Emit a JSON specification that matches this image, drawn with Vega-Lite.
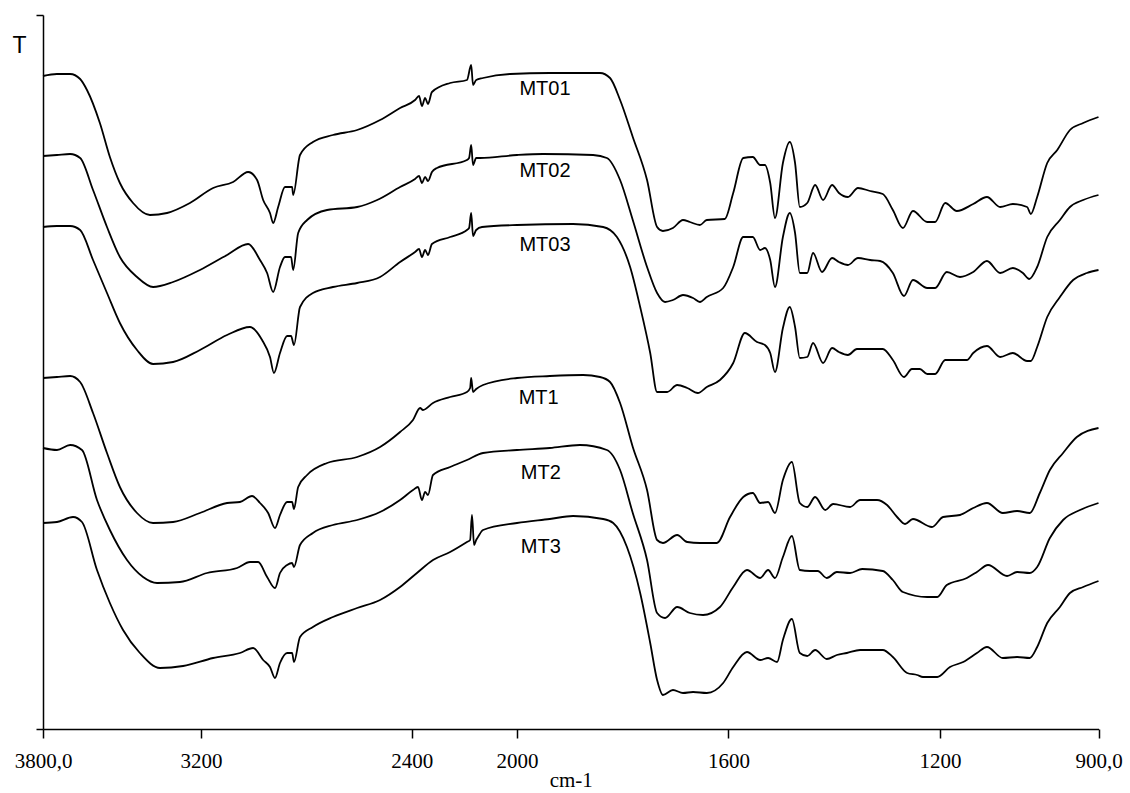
{
"$schema": "https://vega.github.io/schema/vega-lite/v6.json",
"width": 1056, "height": 714,
"autosize": "none",
"padding": {"left": 43, "top": 15, "right": 31, "bottom": 64},
"background": "white",
"config": {"view": {"stroke": null}},
"datasets": {
"spectra": [
{"s":"MT01","w":3800,"t":653},{"s":"MT01","w":3747,"t":655},{"s":"MT01","w":3697,"t":655},{"s":"MT01","w":3659,"t":650},{"s":"MT01","w":3633,"t":639},{"s":"MT01","w":3584,"t":606},{"s":"MT01","w":3546,"t":572},{"s":"MT01","w":3508,"t":546},{"s":"MT01","w":3458,"t":526},{"s":"MT01","w":3394,"t":514},{"s":"MT01","w":3329,"t":516},{"s":"MT01","w":3242,"t":526},{"s":"MT01","w":3154,"t":541},{"s":"MT01","w":3078,"t":547},{"s":"MT01","w":3021,"t":557},{"s":"MT01","w":2987,"t":549},{"s":"MT01","w":2964,"t":529},{"s":"MT01","w":2938,"t":516},{"s":"MT01","w":2926,"t":506},{"s":"MT01","w":2907,"t":522},{"s":"MT01","w":2881,"t":542},{"s":"MT01","w":2854,"t":542},{"s":"MT01","w":2850,"t":534},{"s":"MT01","w":2824,"t":574},{"s":"MT01","w":2775,"t":587},{"s":"MT01","w":2699,"t":594},{"s":"MT01","w":2607,"t":599},{"s":"MT01","w":2520,"t":609},{"s":"MT01","w":2444,"t":621},{"s":"MT01","w":2387,"t":629},{"s":"MT01","w":2372,"t":633},{"s":"MT01","w":2361,"t":623},{"s":"MT01","w":2349,"t":631},{"s":"MT01","w":2338,"t":625},{"s":"MT01","w":2323,"t":637},{"s":"MT01","w":2254,"t":646},{"s":"MT01","w":2190,"t":649},{"s":"MT01","w":2174,"t":664},{"s":"MT01","w":2167,"t":644},{"s":"MT01","w":2155,"t":649},{"s":"MT01","w":2129,"t":651},{"s":"MT01","w":2026,"t":655},{"s":"MT01","w":1938,"t":656},{"s":"MT01","w":1843,"t":656},{"s":"MT01","w":1824,"t":651},{"s":"MT01","w":1805,"t":629},{"s":"MT01","w":1781,"t":592},{"s":"MT01","w":1754,"t":549},{"s":"MT01","w":1735,"t":502},{"s":"MT01","w":1724,"t":498},{"s":"MT01","w":1705,"t":501},{"s":"MT01","w":1686,"t":509},{"s":"MT01","w":1673,"t":507},{"s":"MT01","w":1654,"t":504},{"s":"MT01","w":1641,"t":509},{"s":"MT01","w":1607,"t":510},{"s":"MT01","w":1591,"t":536},{"s":"MT01","w":1572,"t":571},{"s":"MT01","w":1554,"t":572},{"s":"MT01","w":1540,"t":564},{"s":"MT01","w":1531,"t":564},{"s":"MT01","w":1521,"t":546},{"s":"MT01","w":1512,"t":511},{"s":"MT01","w":1497,"t":566},{"s":"MT01","w":1484,"t":587},{"s":"MT01","w":1474,"t":566},{"s":"MT01","w":1465,"t":522},{"s":"MT01","w":1451,"t":526},{"s":"MT01","w":1436,"t":544},{"s":"MT01","w":1421,"t":529},{"s":"MT01","w":1404,"t":544},{"s":"MT01","w":1391,"t":536},{"s":"MT01","w":1374,"t":532},{"s":"MT01","w":1355,"t":541},{"s":"MT01","w":1332,"t":538},{"s":"MT01","w":1308,"t":535},{"s":"MT01","w":1289,"t":519},{"s":"MT01","w":1270,"t":501},{"s":"MT01","w":1251,"t":518},{"s":"MT01","w":1224,"t":507},{"s":"MT01","w":1209,"t":507},{"s":"MT01","w":1190,"t":526},{"s":"MT01","w":1168,"t":518},{"s":"MT01","w":1137,"t":525},{"s":"MT01","w":1111,"t":532},{"s":"MT01","w":1086,"t":522},{"s":"MT01","w":1062,"t":525},{"s":"MT01","w":1035,"t":522},{"s":"MT01","w":1028,"t":515},{"s":"MT01","w":1016,"t":532},{"s":"MT01","w":997,"t":566},{"s":"MT01","w":978,"t":579},{"s":"MT01","w":954,"t":599},{"s":"MT01","w":929,"t":606},{"s":"MT01","w":900,"t":612},

{"s":"MT02","w":3800,"t":573},{"s":"MT02","w":3747,"t":574},{"s":"MT02","w":3697,"t":575},{"s":"MT02","w":3659,"t":571},{"s":"MT02","w":3610,"t":539},{"s":"MT02","w":3557,"t":502},{"s":"MT02","w":3508,"t":472},{"s":"MT02","w":3443,"t":452},{"s":"MT02","w":3382,"t":442},{"s":"MT02","w":3306,"t":447},{"s":"MT02","w":3204,"t":459},{"s":"MT02","w":3101,"t":474},{"s":"MT02","w":3021,"t":485},{"s":"MT02","w":2976,"t":469},{"s":"MT02","w":2949,"t":456},{"s":"MT02","w":2926,"t":437},{"s":"MT02","w":2900,"t":462},{"s":"MT02","w":2881,"t":472},{"s":"MT02","w":2858,"t":472},{"s":"MT02","w":2850,"t":459},{"s":"MT02","w":2831,"t":496},{"s":"MT02","w":2797,"t":509},{"s":"MT02","w":2721,"t":519},{"s":"MT02","w":2607,"t":522},{"s":"MT02","w":2531,"t":529},{"s":"MT02","w":2444,"t":542},{"s":"MT02","w":2387,"t":550},{"s":"MT02","w":2372,"t":553},{"s":"MT02","w":2361,"t":546},{"s":"MT02","w":2349,"t":552},{"s":"MT02","w":2338,"t":548},{"s":"MT02","w":2323,"t":557},{"s":"MT02","w":2304,"t":561},{"s":"MT02","w":2190,"t":569},{"s":"MT02","w":2182,"t":571},{"s":"MT02","w":2174,"t":584},{"s":"MT02","w":2167,"t":564},{"s":"MT02","w":2155,"t":571},{"s":"MT02","w":2140,"t":571},{"s":"MT02","w":2000,"t":574},{"s":"MT02","w":1951,"t":575},{"s":"MT02","w":1856,"t":574},{"s":"MT02","w":1830,"t":571},{"s":"MT02","w":1805,"t":549},{"s":"MT02","w":1781,"t":509},{"s":"MT02","w":1754,"t":462},{"s":"MT02","w":1735,"t":436},{"s":"MT02","w":1720,"t":427},{"s":"MT02","w":1705,"t":429},{"s":"MT02","w":1686,"t":434},{"s":"MT02","w":1667,"t":431},{"s":"MT02","w":1654,"t":427},{"s":"MT02","w":1641,"t":432},{"s":"MT02","w":1610,"t":441},{"s":"MT02","w":1591,"t":462},{"s":"MT02","w":1572,"t":492},{"s":"MT02","w":1554,"t":492},{"s":"MT02","w":1540,"t":479},{"s":"MT02","w":1531,"t":481},{"s":"MT02","w":1521,"t":469},{"s":"MT02","w":1512,"t":442},{"s":"MT02","w":1497,"t":492},{"s":"MT02","w":1484,"t":516},{"s":"MT02","w":1474,"t":496},{"s":"MT02","w":1465,"t":456},{"s":"MT02","w":1451,"t":456},{"s":"MT02","w":1440,"t":476},{"s":"MT02","w":1423,"t":457},{"s":"MT02","w":1404,"t":471},{"s":"MT02","w":1391,"t":467},{"s":"MT02","w":1374,"t":464},{"s":"MT02","w":1355,"t":471},{"s":"MT02","w":1332,"t":469},{"s":"MT02","w":1313,"t":468},{"s":"MT02","w":1289,"t":456},{"s":"MT02","w":1268,"t":433},{"s":"MT02","w":1251,"t":449},{"s":"MT02","w":1224,"t":441},{"s":"MT02","w":1209,"t":441},{"s":"MT02","w":1187,"t":457},{"s":"MT02","w":1162,"t":452},{"s":"MT02","w":1137,"t":457},{"s":"MT02","w":1111,"t":468},{"s":"MT02","w":1086,"t":456},{"s":"MT02","w":1062,"t":461},{"s":"MT02","w":1043,"t":456},{"s":"MT02","w":1031,"t":450},{"s":"MT02","w":1016,"t":462},{"s":"MT02","w":997,"t":492},{"s":"MT02","w":973,"t":509},{"s":"MT02","w":954,"t":522},{"s":"MT02","w":929,"t":529},{"s":"MT02","w":900,"t":534},

{"s":"MT03","w":3800,"t":502},{"s":"MT03","w":3747,"t":503},{"s":"MT03","w":3697,"t":503},{"s":"MT03","w":3659,"t":499},{"s":"MT03","w":3610,"t":469},{"s":"MT03","w":3557,"t":436},{"s":"MT03","w":3508,"t":406},{"s":"MT03","w":3443,"t":379},{"s":"MT03","w":3382,"t":365},{"s":"MT03","w":3306,"t":367},{"s":"MT03","w":3204,"t":379},{"s":"MT03","w":3101,"t":394},{"s":"MT03","w":3014,"t":402},{"s":"MT03","w":2968,"t":389},{"s":"MT03","w":2938,"t":372},{"s":"MT03","w":2923,"t":356},{"s":"MT03","w":2900,"t":376},{"s":"MT03","w":2873,"t":393},{"s":"MT03","w":2858,"t":393},{"s":"MT03","w":2847,"t":384},{"s":"MT03","w":2824,"t":422},{"s":"MT03","w":2775,"t":436},{"s":"MT03","w":2699,"t":442},{"s":"MT03","w":2607,"t":446},{"s":"MT03","w":2520,"t":452},{"s":"MT03","w":2444,"t":467},{"s":"MT03","w":2387,"t":477},{"s":"MT03","w":2372,"t":480},{"s":"MT03","w":2361,"t":472},{"s":"MT03","w":2349,"t":479},{"s":"MT03","w":2338,"t":474},{"s":"MT03","w":2323,"t":485},{"s":"MT03","w":2254,"t":492},{"s":"MT03","w":2190,"t":499},{"s":"MT03","w":2182,"t":501},{"s":"MT03","w":2174,"t":516},{"s":"MT03","w":2167,"t":493},{"s":"MT03","w":2155,"t":499},{"s":"MT03","w":2133,"t":502},{"s":"MT03","w":2000,"t":504},{"s":"MT03","w":1894,"t":505},{"s":"MT03","w":1837,"t":502},{"s":"MT03","w":1811,"t":492},{"s":"MT03","w":1786,"t":462},{"s":"MT03","w":1767,"t":422},{"s":"MT03","w":1748,"t":376},{"s":"MT03","w":1735,"t":337},{"s":"MT03","w":1716,"t":337},{"s":"MT03","w":1697,"t":344},{"s":"MT03","w":1678,"t":341},{"s":"MT03","w":1658,"t":336},{"s":"MT03","w":1641,"t":342},{"s":"MT03","w":1616,"t":349},{"s":"MT03","w":1591,"t":366},{"s":"MT03","w":1569,"t":396},{"s":"MT03","w":1546,"t":387},{"s":"MT03","w":1531,"t":384},{"s":"MT03","w":1521,"t":376},{"s":"MT03","w":1512,"t":357},{"s":"MT03","w":1497,"t":401},{"s":"MT03","w":1484,"t":422},{"s":"MT03","w":1474,"t":402},{"s":"MT03","w":1465,"t":371},{"s":"MT03","w":1451,"t":372},{"s":"MT03","w":1440,"t":386},{"s":"MT03","w":1421,"t":366},{"s":"MT03","w":1404,"t":381},{"s":"MT03","w":1391,"t":377},{"s":"MT03","w":1374,"t":374},{"s":"MT03","w":1357,"t":380},{"s":"MT03","w":1308,"t":380},{"s":"MT03","w":1289,"t":369},{"s":"MT03","w":1268,"t":352},{"s":"MT03","w":1253,"t":360},{"s":"MT03","w":1238,"t":360},{"s":"MT03","w":1224,"t":355},{"s":"MT03","w":1209,"t":355},{"s":"MT03","w":1190,"t":369},{"s":"MT03","w":1149,"t":369},{"s":"MT03","w":1137,"t":376},{"s":"MT03","w":1111,"t":383},{"s":"MT03","w":1086,"t":372},{"s":"MT03","w":1062,"t":376},{"s":"MT03","w":1035,"t":368},{"s":"MT03","w":1028,"t":368},{"s":"MT03","w":1016,"t":382},{"s":"MT03","w":997,"t":412},{"s":"MT03","w":973,"t":432},{"s":"MT03","w":948,"t":449},{"s":"MT03","w":922,"t":456},{"s":"MT03","w":900,"t":459},

{"s":"MT1","w":3800,"t":351},{"s":"MT1","w":3747,"t":352},{"s":"MT1","w":3697,"t":353},{"s":"MT1","w":3659,"t":347},{"s":"MT1","w":3610,"t":316},{"s":"MT1","w":3557,"t":276},{"s":"MT1","w":3508,"t":242},{"s":"MT1","w":3443,"t":216},{"s":"MT1","w":3382,"t":206},{"s":"MT1","w":3306,"t":207},{"s":"MT1","w":3204,"t":216},{"s":"MT1","w":3101,"t":226},{"s":"MT1","w":3052,"t":227},{"s":"MT1","w":3006,"t":233},{"s":"MT1","w":2976,"t":226},{"s":"MT1","w":2945,"t":216},{"s":"MT1","w":2919,"t":201},{"s":"MT1","w":2900,"t":214},{"s":"MT1","w":2873,"t":227},{"s":"MT1","w":2854,"t":227},{"s":"MT1","w":2847,"t":220},{"s":"MT1","w":2831,"t":242},{"s":"MT1","w":2797,"t":254},{"s":"MT1","w":2721,"t":266},{"s":"MT1","w":2607,"t":272},{"s":"MT1","w":2520,"t":282},{"s":"MT1","w":2444,"t":297},{"s":"MT1","w":2395,"t":309},{"s":"MT1","w":2368,"t":321},{"s":"MT1","w":2357,"t":319},{"s":"MT1","w":2319,"t":326},{"s":"MT1","w":2254,"t":332},{"s":"MT1","w":2190,"t":337},{"s":"MT1","w":2178,"t":341},{"s":"MT1","w":2174,"t":351},{"s":"MT1","w":2167,"t":337},{"s":"MT1","w":2155,"t":340},{"s":"MT1","w":2129,"t":344},{"s":"MT1","w":2000,"t":351},{"s":"MT1","w":1938,"t":353},{"s":"MT1","w":1875,"t":354},{"s":"MT1","w":1843,"t":352},{"s":"MT1","w":1824,"t":347},{"s":"MT1","w":1805,"t":326},{"s":"MT1","w":1781,"t":282},{"s":"MT1","w":1754,"t":239},{"s":"MT1","w":1735,"t":189},{"s":"MT1","w":1724,"t":186},{"s":"MT1","w":1697,"t":194},{"s":"MT1","w":1678,"t":187},{"s":"MT1","w":1654,"t":186},{"s":"MT1","w":1622,"t":186},{"s":"MT1","w":1597,"t":212},{"s":"MT1","w":1572,"t":232},{"s":"MT1","w":1554,"t":236},{"s":"MT1","w":1540,"t":226},{"s":"MT1","w":1525,"t":227},{"s":"MT1","w":1512,"t":216},{"s":"MT1","w":1497,"t":249},{"s":"MT1","w":1480,"t":267},{"s":"MT1","w":1465,"t":226},{"s":"MT1","w":1451,"t":222},{"s":"MT1","w":1436,"t":232},{"s":"MT1","w":1417,"t":219},{"s":"MT1","w":1402,"t":225},{"s":"MT1","w":1370,"t":222},{"s":"MT1","w":1351,"t":229},{"s":"MT1","w":1319,"t":229},{"s":"MT1","w":1300,"t":224},{"s":"MT1","w":1281,"t":212},{"s":"MT1","w":1266,"t":205},{"s":"MT1","w":1251,"t":210},{"s":"MT1","w":1215,"t":202},{"s":"MT1","w":1194,"t":212},{"s":"MT1","w":1162,"t":214},{"s":"MT1","w":1137,"t":221},{"s":"MT1","w":1111,"t":226},{"s":"MT1","w":1081,"t":216},{"s":"MT1","w":1054,"t":218},{"s":"MT1","w":1030,"t":216},{"s":"MT1","w":1011,"t":236},{"s":"MT1","w":992,"t":259},{"s":"MT1","w":967,"t":276},{"s":"MT1","w":941,"t":292},{"s":"MT1","w":900,"t":301},

{"s":"MT2","w":3800,"t":281},{"s":"MT2","w":3747,"t":279},{"s":"MT2","w":3697,"t":284},{"s":"MT2","w":3652,"t":279},{"s":"MT2","w":3595,"t":229},{"s":"MT2","w":3546,"t":199},{"s":"MT2","w":3481,"t":169},{"s":"MT2","w":3420,"t":152},{"s":"MT2","w":3367,"t":146},{"s":"MT2","w":3280,"t":147},{"s":"MT2","w":3177,"t":156},{"s":"MT2","w":3063,"t":161},{"s":"MT2","w":3014,"t":167},{"s":"MT2","w":2983,"t":167},{"s":"MT2","w":2949,"t":152},{"s":"MT2","w":2919,"t":141},{"s":"MT2","w":2900,"t":156},{"s":"MT2","w":2873,"t":164},{"s":"MT2","w":2854,"t":166},{"s":"MT2","w":2847,"t":162},{"s":"MT2","w":2824,"t":184},{"s":"MT2","w":2775,"t":196},{"s":"MT2","w":2699,"t":204},{"s":"MT2","w":2607,"t":209},{"s":"MT2","w":2520,"t":217},{"s":"MT2","w":2444,"t":229},{"s":"MT2","w":2395,"t":239},{"s":"MT2","w":2376,"t":242},{"s":"MT2","w":2361,"t":229},{"s":"MT2","w":2349,"t":237},{"s":"MT2","w":2338,"t":234},{"s":"MT2","w":2319,"t":254},{"s":"MT2","w":2254,"t":262},{"s":"MT2","w":2190,"t":269},{"s":"MT2","w":2129,"t":276},{"s":"MT2","w":2000,"t":279},{"s":"MT2","w":1938,"t":281},{"s":"MT2","w":1881,"t":284},{"s":"MT2","w":1830,"t":279},{"s":"MT2","w":1805,"t":259},{"s":"MT2","w":1781,"t":216},{"s":"MT2","w":1754,"t":169},{"s":"MT2","w":1735,"t":116},{"s":"MT2","w":1720,"t":111},{"s":"MT2","w":1697,"t":122},{"s":"MT2","w":1673,"t":116},{"s":"MT2","w":1648,"t":114},{"s":"MT2","w":1616,"t":122},{"s":"MT2","w":1591,"t":142},{"s":"MT2","w":1565,"t":159},{"s":"MT2","w":1540,"t":151},{"s":"MT2","w":1525,"t":159},{"s":"MT2","w":1512,"t":151},{"s":"MT2","w":1497,"t":172},{"s":"MT2","w":1480,"t":193},{"s":"MT2","w":1465,"t":159},{"s":"MT2","w":1446,"t":158},{"s":"MT2","w":1431,"t":158},{"s":"MT2","w":1414,"t":151},{"s":"MT2","w":1395,"t":157},{"s":"MT2","w":1370,"t":156},{"s":"MT2","w":1347,"t":160},{"s":"MT2","w":1308,"t":158},{"s":"MT2","w":1289,"t":149},{"s":"MT2","w":1270,"t":137},{"s":"MT2","w":1224,"t":132},{"s":"MT2","w":1205,"t":132},{"s":"MT2","w":1187,"t":144},{"s":"MT2","w":1149,"t":151},{"s":"MT2","w":1130,"t":157},{"s":"MT2","w":1109,"t":164},{"s":"MT2","w":1073,"t":153},{"s":"MT2","w":1054,"t":157},{"s":"MT2","w":1030,"t":156},{"s":"MT2","w":1016,"t":162},{"s":"MT2","w":992,"t":191},{"s":"MT2","w":967,"t":209},{"s":"MT2","w":935,"t":219},{"s":"MT2","w":900,"t":226},

{"s":"MT3","w":3800,"t":206},{"s":"MT3","w":3747,"t":207},{"s":"MT3","w":3686,"t":212},{"s":"MT3","w":3652,"t":207},{"s":"MT3","w":3595,"t":159},{"s":"MT3","w":3546,"t":126},{"s":"MT3","w":3496,"t":99},{"s":"MT3","w":3432,"t":76},{"s":"MT3","w":3356,"t":61},{"s":"MT3","w":3268,"t":63},{"s":"MT3","w":3154,"t":71},{"s":"MT3","w":3052,"t":76},{"s":"MT3","w":3002,"t":81},{"s":"MT3","w":2964,"t":69},{"s":"MT3","w":2938,"t":62},{"s":"MT3","w":2919,"t":51},{"s":"MT3","w":2900,"t":66},{"s":"MT3","w":2873,"t":76},{"s":"MT3","w":2854,"t":76},{"s":"MT3","w":2847,"t":67},{"s":"MT3","w":2824,"t":92},{"s":"MT3","w":2775,"t":102},{"s":"MT3","w":2699,"t":112},{"s":"MT3","w":2607,"t":121},{"s":"MT3","w":2520,"t":129},{"s":"MT3","w":2444,"t":142},{"s":"MT3","w":2380,"t":156},{"s":"MT3","w":2319,"t":169},{"s":"MT3","w":2254,"t":177},{"s":"MT3","w":2190,"t":187},{"s":"MT3","w":2178,"t":189},{"s":"MT3","w":2171,"t":214},{"s":"MT3","w":2163,"t":184},{"s":"MT3","w":2155,"t":189},{"s":"MT3","w":2148,"t":192},{"s":"MT3","w":2129,"t":199},{"s":"MT3","w":2000,"t":206},{"s":"MT3","w":1938,"t":210},{"s":"MT3","w":1894,"t":213},{"s":"MT3","w":1837,"t":210},{"s":"MT3","w":1818,"t":206},{"s":"MT3","w":1792,"t":182},{"s":"MT3","w":1767,"t":136},{"s":"MT3","w":1748,"t":86},{"s":"MT3","w":1735,"t":49},{"s":"MT3","w":1724,"t":34},{"s":"MT3","w":1705,"t":39},{"s":"MT3","w":1686,"t":36},{"s":"MT3","w":1667,"t":37},{"s":"MT3","w":1641,"t":36},{"s":"MT3","w":1610,"t":46},{"s":"MT3","w":1591,"t":62},{"s":"MT3","w":1565,"t":77},{"s":"MT3","w":1540,"t":69},{"s":"MT3","w":1525,"t":71},{"s":"MT3","w":1508,"t":67},{"s":"MT3","w":1497,"t":89},{"s":"MT3","w":1480,"t":110},{"s":"MT3","w":1465,"t":76},{"s":"MT3","w":1451,"t":73},{"s":"MT3","w":1436,"t":79},{"s":"MT3","w":1414,"t":70},{"s":"MT3","w":1395,"t":74},{"s":"MT3","w":1376,"t":76},{"s":"MT3","w":1351,"t":79},{"s":"MT3","w":1308,"t":79},{"s":"MT3","w":1289,"t":72},{"s":"MT3","w":1262,"t":56},{"s":"MT3","w":1243,"t":54},{"s":"MT3","w":1232,"t":52},{"s":"MT3","w":1205,"t":52},{"s":"MT3","w":1181,"t":62},{"s":"MT3","w":1156,"t":67},{"s":"MT3","w":1130,"t":76},{"s":"MT3","w":1111,"t":82},{"s":"MT3","w":1081,"t":71},{"s":"MT3","w":1054,"t":72},{"s":"MT3","w":1030,"t":71},{"s":"MT3","w":1016,"t":82},{"s":"MT3","w":997,"t":106},{"s":"MT3","w":973,"t":122},{"s":"MT3","w":954,"t":136},{"s":"MT3","w":929,"t":142},{"s":"MT3","w":900,"t":148}
],
"labels": [
{"s":"MT01","w":1947,"t":640},{"s":"MT02","w":1947,"t":558},{"s":"MT03","w":1947,"t":484},{"s":"MT1","w":1959,"t":331},{"s":"MT2","w":1955,"t":256},{"s":"MT3","w":1955,"t":182}
]
},
"layer": [
{
"data": {"name": "spectra"},
"mark": {"type": "line", "color": "black", "strokeWidth": 1.8, "strokeJoin": "round", "interpolate": "monotone"},
"encoding": {
"x": {"field": "w", "type": "quantitative",
 "scale": {"domain": [3800, 2000, 900], "range": [0, 474, 1055.5], "nice": false, "zero": false},
 "axis": {"values": [3800, 3200, 2400, 2000, 1600, 1200, 900],
  "labelExpr": "datum.value == 3800 ? '3800,0' : datum.value == 900 ? '900,0' : '' + datum.value",
  "labelFont": "Liberation Serif", "labelFontSize": 21, "labelColor": "black",
  "labelPadding": 12, "labelOverlap": false, "labelFlush": false,
  "tickSize": 9, "tickColor": "black", "tickWidth": 1.5,
  "domainColor": "black", "domainWidth": 1.5, "grid": false,
  "title": "cm-1", "titleFont": "Liberation Serif", "titleFontSize": 21, "titleFontWeight": "normal",
  "titleColor": "black", "titleBaseline": "alphabetic", "titleY": 57}},
"y": {"field": "t", "type": "quantitative",
 "scale": {"domain": [0, 714], "nice": false, "zero": false},
 "axis": {"values": [0, 714], "labels": false, "tickSize": 7, "tickColor": "black", "tickWidth": 1.5,
  "domainColor": "black", "domainWidth": 1.5, "grid": false,
  "title": "T", "titleAngle": 0, "titleX": -24, "titleY": 30, "titleAlign": "center", "titleBaseline": "middle",
  "titleFont": "Liberation Sans", "titleFontSize": 23, "titleFontWeight": "normal", "titleColor": "black"}},
"detail": {"field": "s"}
}
},
{
"data": {"name": "labels"},
"mark": {"type": "text", "font": "Liberation Sans", "fontSize": 20, "color": "black", "align": "center", "baseline": "middle"},
"encoding": {
"x": {"field": "w", "type": "quantitative"},
"y": {"field": "t", "type": "quantitative"},
"text": {"field": "s"}
}
}
]
}
